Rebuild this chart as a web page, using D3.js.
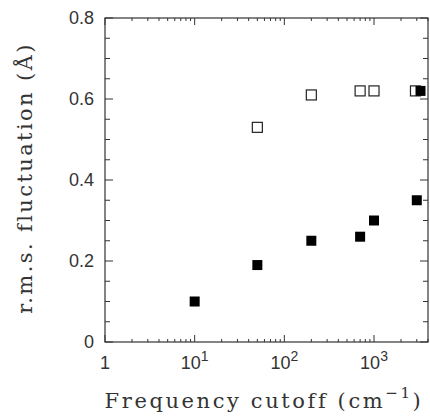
<!DOCTYPE html>
<html>
<head>
<meta charset="utf-8">
<style>
  body { margin: 0; background: #fff; }
  svg { display: block; }
  .tick-label { font-family: 'Liberation Sans', Arial, sans-serif; font-size: 18px; fill: #333; }
  .axis-title { font-family: 'DejaVu Serif', serif; font-size: 21px; fill: #333; }
</style>
</head>
<body>
<svg width="430" height="416"></svg>
<script src="https://d3js.org/d3.v7.min.js"></script>
<script>
  // frequency cutoff (cm^-1) and r.m.s. fluctuation (Å)
  let filledX = [10, 50, 200, 700, 1000, 3000, 3300]
  let filledY = [0.10, 0.19, 0.25, 0.26, 0.30, 0.35, 0.62]
  let openX = [50, 200, 700, 1000, 2900]
  let openY = [0.53, 0.61, 0.62, 0.62, 0.62]

  let yTicks = [0, 0.2, 0.4, 0.6, 0.8]
  let yTickLabels = ["0", "0.2", "0.4", "0.6", "0.8"]
  let xTicks = [1, 10, 100, 1000]
  let xTickExp = [null, "1", "2", "3"]

  let svg = d3.select("svg")
  let margin = { left: 105, top: 18, right: 2, bottom: 74 }
  let width = 430, height = 416

  let x = d3.scaleLog()
    .domain([1, 4000])
    .range([margin.left, width - margin.right])

  let y = d3.scaleLinear()
    .domain([0, 0.8])
    .range([height - margin.bottom, margin.top])

  let x0 = x.range()[0], x1 = x.range()[1]
  let y0 = y.range()[0], y1 = y.range()[1]

  // frame
  svg.append("rect")
    .attr("x", x0).attr("y", y1)
    .attr("width", x1 - x0).attr("height", y0 - y1)
    .attr("fill", "none")
    .attr("stroke", "#333")
    .attr("stroke-width", 1.2)

  // minor x ticks (log)
  let minorX = []
  for (let d = 1; d < 4000; d *= 10) {
    for (let k = 2; k <= 9; k++) {
      if (d * k <= 4000) minorX.push(d * k)
    }
  }
  let g = svg.append("g").attr("stroke", "#333").attr("stroke-width", 1)

  g.selectAll(".xminor-b").data(minorX).join("line")
    .attr("x1", d => x(d)).attr("x2", d => x(d))
    .attr("y1", y0).attr("y2", y0 - 3)
  g.selectAll(".xminor-t").data(minorX).join("line")
    .attr("x1", d => x(d)).attr("x2", d => x(d))
    .attr("y1", y1).attr("y2", y1 + 3)
  g.selectAll(".xmajor-b").data(xTicks).join("line")
    .attr("x1", d => x(d)).attr("x2", d => x(d))
    .attr("y1", y0).attr("y2", y0 - 7)
  g.selectAll(".xmajor-t").data(xTicks).join("line")
    .attr("x1", d => x(d)).attr("x2", d => x(d))
    .attr("y1", y1).attr("y2", y1 + 7)

  // y ticks every 0.05, major at 0.2
  let yAll = d3.range(0, 0.8001, 0.05)
  g.selectAll(".yl").data(yAll).join("line")
    .attr("x1", x0).attr("x2", (d, i) => x0 + (i % 4 == 0 ? 8 : 5))
    .attr("y1", d => y(d)).attr("y2", d => y(d))
  g.selectAll(".yr").data(yAll).join("line")
    .attr("x1", x1).attr("x2", (d, i) => x1 - (i % 4 == 0 ? 8 : 5))
    .attr("y1", d => y(d)).attr("y2", d => y(d))

  // y tick labels
  svg.selectAll(".ylab").data(yTicks).join("text")
    .attr("class", "tick-label")
    .attr("x", x0 - 11)
    .attr("y", d => y(d) + 6)
    .attr("text-anchor", "end")
    .text((d, i) => yTickLabels[i])

  // x tick labels
  let xl = svg.selectAll(".xlab").data(xTicks).join("text")
    .attr("class", "tick-label")
    .attr("x", d => x(d))
    .attr("y", y0 + 27)
    .attr("text-anchor", "middle")
  xl.append("tspan").text("1").filter((d, i) => i > 0).text("10")
  xl.filter((d, i) => i > 0).append("tspan")
    .attr("dy", -8).attr("font-size", 14)
    .text((d) => xTickExp[xTicks.indexOf(d)])

  // points
  let s = 10
  svg.selectAll(".open").data(openX).join("rect")
    .attr("x", d => x(d) - s / 2)
    .attr("y", (d, i) => y(openY[i]) - s / 2)
    .attr("width", s).attr("height", s)
    .attr("fill", "#fff").attr("stroke", "#222").attr("stroke-width", 1.2)

  svg.selectAll(".filled").data(filledX).join("rect")
    .attr("x", d => x(d) - s / 2)
    .attr("y", (d, i) => y(filledY[i]) - s / 2)
    .attr("width", s).attr("height", s)
    .attr("fill", "#000")

  // axis titles
  let xt = svg.append("text")
    .attr("class", "axis-title")
    .attr("x", 264).attr("y", 408)
    .attr("text-anchor", "middle")
    .style("letter-spacing", "2.6px")
  xt.append("tspan").text("Frequency cutoff (cm")
  xt.append("tspan").attr("dy", -10).attr("font-size", 15).text("−1")
  xt.append("tspan").attr("dy", 10).text(")")

  svg.append("text")
    .attr("class", "axis-title")
    .attr("transform", "translate(32," + 178 + ") rotate(-90)")
    .attr("text-anchor", "middle")
    .style("letter-spacing", "2.4px")
    .text("r.m.s. fluctuation (Å)")
</script>
</body>
</html>
